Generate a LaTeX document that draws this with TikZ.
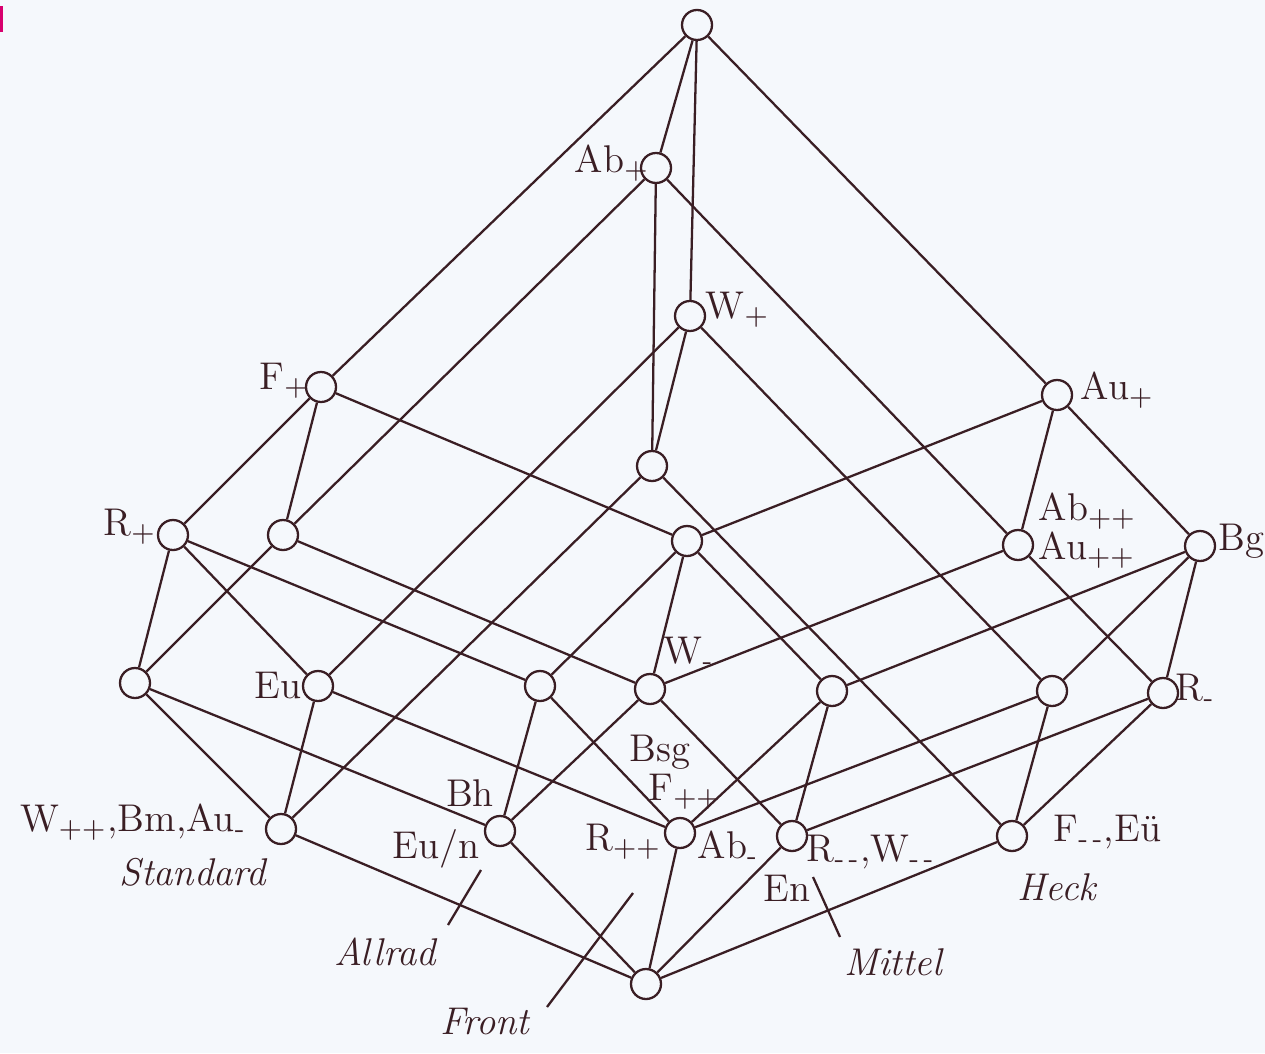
\documentclass[tikz,border=0pt]{standalone}
\usepackage{xcolor}
\usepackage{tikz}
\usetikzlibrary{positioning}
\definecolor{paper}{HTML}{F5F8FC}
\definecolor{ink}{HTML}{3A1E24}
\definecolor{scanpink}{HTML}{D8006E}
\tikzset{
  latt/.style={draw=ink, circle, fill=paper, minimum size=0.30cm, inner sep=0pt, line width=0.65pt},
  edge/.style={draw=ink, line width=0.65pt},
  lbl/.style={text=ink, inner sep=0pt, font=\fontsize{11}{12}\selectfont},
  tag/.style={text=ink, inner sep=0pt, font=\fontsize{11}{12}\selectfont\itshape},
  pointer/.style={draw=ink, line width=0.65pt}
}

\begin{document}
\begin{tikzpicture}
  \fill[paper] (0,0) rectangle (12.65,10.53);
  \useasboundingbox (0,0) rectangle (12.65,10.53);
  \fill[scanpink] (0,10.21) rectangle (0.03,10.47);

  % lattice nodes, top to bottom
  \node[latt] (top) at (6.97,10.28) {};
  \node[latt] (abplus) at (6.56,8.85) {};
  \node[latt] (wplus) at (6.90,7.37) {};
  \node[latt] (fplus) at (3.21,6.66) {};
  \node[latt] (auplus) at (10.57,6.58) {};
  \node[latt] (mid) at (6.52,5.87) {};
  \node[latt] (rplus) at (1.73,5.18) {};
  \node[latt] (left2) at (2.83,5.18) {};
  \node[latt] (centre) at (6.87,5.12) {};
  \node[latt] (abpp) at (10.18,5.08) {};
  \node[latt] (bg) at (12.00,5.07) {};
  \node[latt] (low1) at (1.35,3.70) {};
  \node[latt] (eu) at (3.18,3.67) {};
  \node[latt] (low3) at (5.40,3.67) {};
  \node[latt] (wminus) at (6.50,3.64) {};
  \node[latt] (low5) at (8.32,3.62) {};
  \node[latt] (low6) at (10.52,3.62) {};
  \node[latt] (rminus) at (11.63,3.60) {};
  \node[latt] (standard) at (2.81,2.24) {};
  \node[latt] (allrad) at (5.00,2.22) {};
  \node[latt] (front) at (6.80,2.20) {};
  \node[latt] (mittel) at (7.92,2.17) {};
  \node[latt] (heck) at (10.12,2.17) {};
  \node[latt] (bottom) at (6.46,0.69) {};

  % edges
  \draw[edge] (top) -- (fplus) (top) -- (abplus) (top) -- (wplus) (top) -- (auplus);
  \draw[edge] (abplus) -- (mid) (abplus) -- (left2) (abplus) -- (abpp);
  \draw[edge] (wplus) -- (mid) (wplus) -- (eu) (wplus) -- (low6);
  \draw[edge] (fplus) -- (rplus) (fplus) -- (left2) (fplus) -- (centre);
  \draw[edge] (auplus) -- (centre) (auplus) -- (abpp) (auplus) -- (bg);
  \draw[edge] (mid) -- (standard) (mid) -- (heck);
  \draw[edge] (rplus) -- (low1) (rplus) -- (eu) (rplus) -- (low3);
  \draw[edge] (left2) -- (low1) (left2) -- (wminus);
  \draw[edge] (centre) -- (low3) (centre) -- (wminus) (centre) -- (low5);
  \draw[edge] (abpp) -- (wminus) (abpp) -- (rminus);
  \draw[edge] (bg) -- (low5) (bg) -- (low6) (bg) -- (rminus);
  \draw[edge] (low1) -- (standard) (low1) -- (allrad);
  \draw[edge] (eu) -- (standard) (eu) -- (front);
  \draw[edge] (low3) -- (allrad) (low3) -- (front);
  \draw[edge] (wminus) -- (allrad) (wminus) -- (mittel);
  \draw[edge] (low5) -- (front) (low5) -- (mittel);
  \draw[edge] (low6) -- (front) (low6) -- (heck);
  \draw[edge] (rminus) -- (mittel) (rminus) -- (heck);
  \draw[edge] (standard) -- (bottom) (allrad) -- (bottom) (front) -- (bottom)
              (mittel) -- (bottom) (heck) -- (bottom);

  % attribute and object labels
  \node[lbl, anchor=east] (abpluslbl) at (6.50,8.90) {Ab$_+$};
  \node[lbl, anchor=west] (wpluslbl) at (7.05,7.43) {W$_+$};
  \node[lbl, anchor=east] (fpluslbl) at (3.10,6.72) {F$_+$};
  \node[lbl, anchor=west] (aupluslbl) at (10.80,6.63) {Au$_+$};
  \node[lbl, anchor=east] (rpluslbl) at (1.57,5.26) {R$_+$};
  \node[lbl, anchor=west] (abpplbl) at (10.38,5.42) {Ab$_{++}$};
  \node[lbl, anchor=west] (aupplbl) at (10.38,5.03) {Au$_{++}$};
  \node[lbl, anchor=west] (bglbl) at (12.18,5.12) {Bg};
  \node[lbl, anchor=east] (eulbl) at (3.02,3.67) {Eu};
  \node[lbl, anchor=west] (wminuslbl) at (6.63,4.00) {W\textsubscript{-}};
  \node[lbl, anchor=west] (rminuslbl) at (11.75,3.63) {R\textsubscript{-}};
  \node[lbl, anchor=east] (standardlbl) at (2.47,2.31) {W$_{++}$,Bm,Au\textsubscript{-}};
  \node[lbl] (bhlbl) at (4.70,2.60) {Bh};
  \node[lbl, anchor=east] (eunlbl) at (4.80,2.04) {Eu/n};
  \node[lbl] (bsglbl) at (6.60,3.01) {Bsg};
  \node[lbl] (fpplbl) at (6.85,2.61) {F$_{++}$};
  \node[lbl, anchor=east] (rpplbl) at (6.62,2.11) {R$_{++}$};
  \node[lbl, anchor=west] (abminuslbl) at (6.97,2.05) {Ab\textsubscript{-}};
  \node[lbl, anchor=west] (rmmlbl) at (8.06,2.01) {R\textsubscript{-\,-},W\textsubscript{-\,-}};
  \node[lbl] (enlbl) at (7.87,1.65) {En};
  \node[lbl, anchor=west] (fmmlbl) at (10.53,2.21) {F\textsubscript{-\,-},E\"u};

  % concept names
  \node[tag] (standardtag) at (1.93,1.81) {Standard};
  \node[tag] (allradtag) at (3.85,1.01) {Allrad};
  \node[tag] (fronttag) at (4.85,0.31) {Front};
  \node[tag] (minttag) at (8.93,0.91) {Mittel};
  \node[tag] (hecktag) at (10.57,1.66) {Heck};

  \coordinate (allradfoot) at (4.48,1.28);
  \coordinate (allradtip) at (4.81,1.83);
  \coordinate (frontfoot) at (5.47,0.46);
  \coordinate (fronttip) at (6.33,1.60);
  \coordinate (mittelfoot) at (8.40,1.16);
  \coordinate (mitteltip) at (8.13,1.76);
  \draw[pointer] (allradfoot) -- (allradtip);
  \draw[pointer] (frontfoot) -- (fronttip);
  \draw[pointer] (mittelfoot) -- (mitteltip);
\end{tikzpicture}
\end{document}
